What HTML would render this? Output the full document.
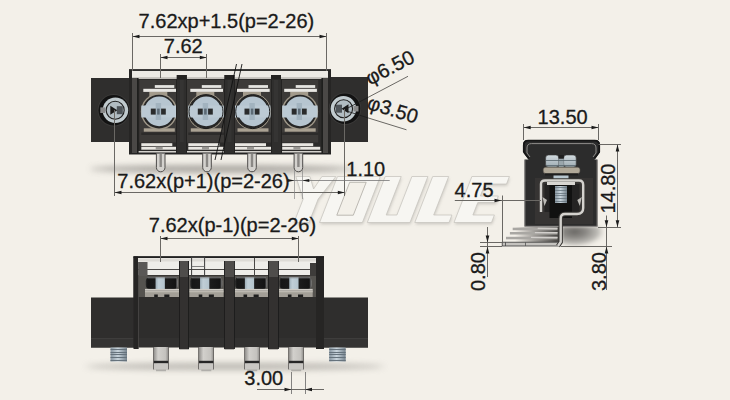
<!DOCTYPE html><html><head><meta charset="utf-8"><style>
html,body{margin:0;padding:0;background:#f3f0e9;width:730px;height:400px;overflow:hidden}
svg{display:block} text{font-family:"Liberation Sans",sans-serif;}
</style></head><body>
<svg width="730" height="400" viewBox="0 0 730 400">
<defs>
<filter id="blur3" x="-20%" y="-200%" width="140%" height="500%"><feGaussianBlur stdDeviation="3"/></filter>
<filter id="blur2" x="-20%" y="-100%" width="140%" height="300%"><feGaussianBlur stdDeviation="1.5"/></filter>
<filter id="blur4" x="-50%" y="-50%" width="200%" height="200%"><feGaussianBlur stdDeviation="4"/></filter>
<linearGradient id="headF" x1="0" y1="0" x2="1" y2="0"><stop offset="0" stop-color="#2a2a2a"/><stop offset="0.06" stop-color="#161616"/><stop offset="0.29" stop-color="#1a1a1a"/><stop offset="0.32" stop-color="#a3b3bc"/><stop offset="0.4" stop-color="#c0ced6"/><stop offset="0.58" stop-color="#b4c4cd"/><stop offset="0.61" stop-color="#1c1c1c"/><stop offset="0.93" stop-color="#141414"/><stop offset="1" stop-color="#8a8a8a"/></linearGradient>
<linearGradient id="thr" x1="0" y1="0" x2="1" y2="0"><stop offset="0" stop-color="#8795a0"/><stop offset="0.45" stop-color="#c8d4dc"/><stop offset="1" stop-color="#76838d"/></linearGradient>
<linearGradient id="pinF" x1="0" y1="0" x2="1" y2="0"><stop offset="0" stop-color="#8f8d8a"/><stop offset="0.3" stop-color="#d2d0cc"/><stop offset="0.8" stop-color="#c4c2be"/><stop offset="1" stop-color="#8f8d8a"/></linearGradient>
<linearGradient id="lead" x1="0" y1="0" x2="1" y2="0"><stop offset="0" stop-color="#c8c6c2"/><stop offset="0.6" stop-color="#8a8885"/><stop offset="1" stop-color="#4a4846"/></linearGradient>
<linearGradient id="sideSh" x1="0" y1="0" x2="1" y2="0"><stop offset="0" stop-color="#6e6c6a"/><stop offset="0.4" stop-color="#8c8a87"/><stop offset="0.75" stop-color="#c4c2bd"/><stop offset="1" stop-color="#e8e6e0"/></linearGradient>
</defs>
<rect width="730" height="400" fill="#f3f0e9"/>

<ellipse cx="222" cy="169" rx="132" ry="3.5" fill="#8f8c87" opacity="0.8" filter="url(#blur3)"/>
<ellipse cx="235" cy="366.5" rx="150" ry="3.2" fill="#8f8c87" opacity="0.6" filter="url(#blur3)"/>
<g>
<polygon points="294.5,224.3 309.5,224.3 318.7,200.8 336.4,178.3 322.4,178.3 314.1,190.8 310.4,178.3 296.4,178.3 303.7,200.8" fill="#b9b6b0" opacity="0.7" filter="url(#blur2)"/>
<polygon points="320.1,224.3 362.9,224.3 380.8,178.3 338.0,178.3" fill="#b9b6b0" opacity="0.7" filter="url(#blur2)"/>
<polygon points="367.8,224.3 410.5,224.3 428.4,178.3 412.4,178.3 397.4,216.8 386.7,216.8 401.7,178.3 385.7,178.3" fill="#b9b6b0" opacity="0.7" filter="url(#blur2)"/>
<polygon points="415.3,224.3 449.5,224.3 452.4,216.8 434.2,216.8 449.2,178.3 433.2,178.3" fill="#b9b6b0" opacity="0.7" filter="url(#blur2)"/>
<polygon points="454.5,224.3 492.0,224.3 494.9,216.8 473.4,216.8 478.3,204.3 496.3,204.3 498.8,197.8 480.8,197.8 485.5,185.8 507.0,185.8 509.9,178.3 472.4,178.3" fill="#b9b6b0" opacity="0.7" filter="url(#blur2)"/>
<polygon points="294.0,222.5 309.0,222.5 318.2,199.0 335.9,176.5 321.9,176.5 313.6,189.0 309.9,176.5 295.9,176.5 303.2,199.0" fill="#f7f6f2" stroke="#c9c6c0" stroke-width="0.8"/>
<polygon points="319.6,222.5 362.4,222.5 380.3,176.5 337.5,176.5" fill="#f7f6f2" stroke="#c9c6c0" stroke-width="0.8"/>
<polygon points="367.3,222.5 410.0,222.5 427.9,176.5 411.9,176.5 396.9,215.0 386.2,215.0 401.2,176.5 385.2,176.5" fill="#f7f6f2" stroke="#c9c6c0" stroke-width="0.8"/>
<polygon points="414.8,222.5 449.0,222.5 451.9,215.0 433.7,215.0 448.7,176.5 432.7,176.5" fill="#f7f6f2" stroke="#c9c6c0" stroke-width="0.8"/>
<polygon points="454.0,222.5 491.5,222.5 494.4,215.0 472.9,215.0 477.8,202.5 495.8,202.5 498.3,196.0 480.3,196.0 485.0,184.0 506.5,184.0 509.4,176.5 471.9,176.5" fill="#f7f6f2" stroke="#c9c6c0" stroke-width="0.8"/>
<polygon points="336.8,215.2 353.3,215.2 366.2,182.3 349.7,182.3" fill="#f3f0e9" stroke="#b5b2ac" stroke-width="0.9"/>
</g>
<rect x="91.00" y="78.00" width="41.00" height="64.00" fill="#2f2e2d" />
<rect x="329.00" y="77.00" width="39.00" height="65.00" fill="#2f2e2d" />
<rect x="129.00" y="69.50" width="202.00" height="85.00" fill="#2c2b2a" />
<rect x="131.00" y="70.70" width="197.00" height="8.00" fill="#ebe9e4" />
<rect x="131.00" y="77.00" width="197.00" height="1.70" fill="#c9c7c2" />
<line x1="129" y1="70" x2="331" y2="70" stroke="#222" stroke-width="1.3"/>
<rect x="139.30" y="80.00" width="38.00" height="62.50" fill="#3c3a38" />
<rect x="154.80" y="85.10" width="19.50" height="2.80" fill="#e6e6e2" />
<rect x="143.30" y="88.80" width="32.70" height="3.10" fill="#e8e7e3" />
<rect x="149.30" y="92.00" width="18.00" height="5.00" fill="#a39b8c" />
<rect x="143.80" y="128.30" width="31.00" height="3.40" fill="#aaa293" />
<circle cx="159.0" cy="111.6" r="18.2" fill="#a1998a"/>
<circle cx="159.0" cy="111.6" r="16.8" fill="#262626"/>
<circle cx="159.20000000000002" cy="111.3" r="14.9" fill="#b6c5d0"/>
<rect x="141.30" y="105.50" width="35.40" height="12.00" fill="#bccad4" />
<rect x="150.80" y="108.60" width="15.00" height="6.00" fill="#2a2b2c" />
<rect x="155.70" y="103.00" width="5.40" height="17.00" fill="#a2b3bf" />
<rect x="157.10" y="108.60" width="2.60" height="6.00" fill="#5c6a75" />
<rect x="141.30" y="143.20" width="31.00" height="2.90" fill="#e9e7e2" />
<rect x="141.30" y="146.80" width="38.00" height="2.90" fill="#e9e7e2" />
<rect x="141.30" y="132.50" width="36.00" height="2.50" fill="#2c2b2a" />
<rect x="186.30" y="80.00" width="38.00" height="62.50" fill="#3c3a38" />
<rect x="201.80" y="85.10" width="19.50" height="2.80" fill="#e6e6e2" />
<rect x="190.30" y="88.80" width="32.70" height="3.10" fill="#e8e7e3" />
<rect x="196.30" y="92.00" width="18.00" height="5.00" fill="#a39b8c" />
<rect x="190.80" y="128.30" width="31.00" height="3.40" fill="#aaa293" />
<circle cx="206.0" cy="111.6" r="18.2" fill="#a1998a"/>
<circle cx="206.0" cy="111.6" r="16.8" fill="#262626"/>
<circle cx="206.20000000000002" cy="111.3" r="14.9" fill="#b6c5d0"/>
<rect x="188.30" y="105.50" width="35.40" height="12.00" fill="#bccad4" />
<rect x="197.80" y="108.60" width="15.00" height="6.00" fill="#2a2b2c" />
<rect x="202.70" y="103.00" width="5.40" height="17.00" fill="#a2b3bf" />
<rect x="204.10" y="108.60" width="2.60" height="6.00" fill="#5c6a75" />
<rect x="188.30" y="143.20" width="31.00" height="2.90" fill="#e9e7e2" />
<rect x="188.30" y="146.80" width="38.00" height="2.90" fill="#e9e7e2" />
<rect x="188.30" y="132.50" width="36.00" height="2.50" fill="#2c2b2a" />
<rect x="233.00" y="80.00" width="38.00" height="62.50" fill="#3c3a38" />
<rect x="248.50" y="85.10" width="19.50" height="2.80" fill="#e6e6e2" />
<rect x="237.00" y="88.80" width="32.70" height="3.10" fill="#e8e7e3" />
<rect x="243.00" y="92.00" width="18.00" height="5.00" fill="#a39b8c" />
<rect x="237.50" y="128.30" width="31.00" height="3.40" fill="#aaa293" />
<circle cx="252.7" cy="111.6" r="18.2" fill="#a1998a"/>
<circle cx="252.7" cy="111.6" r="16.8" fill="#262626"/>
<circle cx="252.9" cy="111.3" r="14.9" fill="#b6c5d0"/>
<rect x="235.00" y="105.50" width="35.40" height="12.00" fill="#bccad4" />
<rect x="244.50" y="108.60" width="15.00" height="6.00" fill="#2a2b2c" />
<rect x="249.40" y="103.00" width="5.40" height="17.00" fill="#a2b3bf" />
<rect x="250.80" y="108.60" width="2.60" height="6.00" fill="#5c6a75" />
<rect x="235.00" y="143.20" width="31.00" height="2.90" fill="#e9e7e2" />
<rect x="235.00" y="146.80" width="38.00" height="2.90" fill="#e9e7e2" />
<rect x="235.00" y="132.50" width="36.00" height="2.50" fill="#2c2b2a" />
<rect x="280.20" y="80.00" width="38.00" height="62.50" fill="#3c3a38" />
<rect x="295.70" y="85.10" width="19.50" height="2.80" fill="#e6e6e2" />
<rect x="284.20" y="88.80" width="32.70" height="3.10" fill="#e8e7e3" />
<rect x="290.20" y="92.00" width="18.00" height="5.00" fill="#a39b8c" />
<rect x="284.70" y="128.30" width="31.00" height="3.40" fill="#aaa293" />
<circle cx="299.9" cy="111.6" r="18.2" fill="#a1998a"/>
<circle cx="299.9" cy="111.6" r="16.8" fill="#262626"/>
<circle cx="300.09999999999997" cy="111.3" r="14.9" fill="#b6c5d0"/>
<rect x="282.20" y="105.50" width="35.40" height="12.00" fill="#bccad4" />
<rect x="291.70" y="108.60" width="15.00" height="6.00" fill="#2a2b2c" />
<rect x="296.60" y="103.00" width="5.40" height="17.00" fill="#a2b3bf" />
<rect x="298.00" y="108.60" width="2.60" height="6.00" fill="#5c6a75" />
<rect x="282.20" y="143.20" width="31.00" height="2.90" fill="#e9e7e2" />
<rect x="282.20" y="146.80" width="38.00" height="2.90" fill="#e9e7e2" />
<rect x="282.20" y="132.50" width="36.00" height="2.50" fill="#2c2b2a" />
<rect x="155.70" y="146.80" width="7.00" height="2.90" fill="#9a9894" />
<rect x="202.00" y="146.80" width="7.00" height="2.90" fill="#9a9894" />
<rect x="247.00" y="146.80" width="7.00" height="2.90" fill="#9a9894" />
<rect x="293.40" y="146.80" width="7.00" height="2.90" fill="#9a9894" />
<rect x="131.00" y="151.00" width="197.00" height="1.50" fill="#d4d2cd" />
<rect x="176.80" y="75.00" width="10.00" height="79.00" fill="#2f2e2d" />
<rect x="179.80" y="80.00" width="4.00" height="62.00" fill="#353433" />
<rect x="176.80" y="75.00" width="10.00" height="4.50" fill="#222120" />
<line x1="176.5" y1="79" x2="176.5" y2="154" stroke="#232221" stroke-width="1"/>
<line x1="186.5" y1="79" x2="186.5" y2="154" stroke="#232221" stroke-width="1"/>
<rect x="224.50" y="75.00" width="10.00" height="79.00" fill="#2f2e2d" />
<rect x="227.50" y="80.00" width="4.00" height="62.00" fill="#353433" />
<rect x="224.50" y="75.00" width="10.00" height="4.50" fill="#222120" />
<line x1="224.5" y1="79" x2="224.5" y2="154" stroke="#232221" stroke-width="1"/>
<line x1="234.5" y1="79" x2="234.5" y2="154" stroke="#232221" stroke-width="1"/>
<rect x="271.00" y="75.00" width="10.00" height="79.00" fill="#2f2e2d" />
<rect x="274.00" y="80.00" width="4.00" height="62.00" fill="#353433" />
<rect x="271.00" y="75.00" width="10.00" height="4.50" fill="#222120" />
<line x1="271.5" y1="79" x2="271.5" y2="154" stroke="#232221" stroke-width="1"/>
<line x1="281.5" y1="79" x2="281.5" y2="154" stroke="#232221" stroke-width="1"/>
<rect x="129.00" y="70.00" width="3.00" height="84.00" fill="#262524" />
<rect x="132.00" y="78.00" width="5.00" height="76.00" fill="#4a4846" />
<rect x="137.00" y="78.00" width="1.60" height="76.00" fill="#1e1e1d" />
<rect x="328.00" y="70.00" width="3.00" height="84.00" fill="#262524" />
<rect x="323.00" y="78.00" width="5.00" height="76.00" fill="#4a4846" />
<rect x="321.40" y="78.00" width="1.60" height="76.00" fill="#1e1e1d" />
<line x1="129" y1="153.5" x2="331" y2="153.5" stroke="#222" stroke-width="1.2"/>
<circle cx="113.8" cy="110.2" r="16.2" fill="#3b3a39"/>
<circle cx="113.8" cy="110.2" r="15.3" fill="#121212"/>
<circle cx="115.39999999999999" cy="110.2" r="12.8" fill="#c0cace"/>
<rect x="100.30" y="107.40" width="5.00" height="5.60" fill="#8a8a8a" />
<circle cx="115.2" cy="110.2" r="9" fill="#b1bcc2" stroke="#1e1e1e" stroke-width="1.1"/>
<rect x="116.8" y="106.2" width="6" height="8" fill="#4e5459"/>
<polygon points="110.3,105.7 117.3,110.2 110.3,114.7" fill="#1a1a1a"/>
<circle cx="345" cy="108.7" r="16.2" fill="#3b3a39"/>
<circle cx="345" cy="108.7" r="15.3" fill="#121212"/>
<circle cx="343.4" cy="108.7" r="12.8" fill="#c0cace"/>
<rect x="353.50" y="105.90" width="5.00" height="5.60" fill="#8a8a8a" />
<circle cx="343.6" cy="108.7" r="9" fill="#b1bcc2" stroke="#1e1e1e" stroke-width="1.1"/>
<rect x="336" y="104.7" width="6" height="8" fill="#4e5459"/>
<polygon points="348.5,104.2 341.5,108.7 348.5,113.2" fill="#1a1a1a"/>
<path d="M156.4 153.5 V167.5 a4.3 4.3 0 0 0 8.6 0 V153.5" fill="#d4d2ce" stroke="#4e4c4a" stroke-width="1"/>
<rect x="159.50" y="154.00" width="2.40" height="13.00" fill="#8a8885" />
<path d="M202.7 153.5 V167.5 a4.3 4.3 0 0 0 8.6 0 V153.5" fill="#d4d2ce" stroke="#4e4c4a" stroke-width="1"/>
<rect x="205.80" y="154.00" width="2.40" height="13.00" fill="#8a8885" />
<path d="M247.7 153.5 V167.5 a4.3 4.3 0 0 0 8.6 0 V153.5" fill="#d4d2ce" stroke="#4e4c4a" stroke-width="1"/>
<rect x="250.80" y="154.00" width="2.40" height="13.00" fill="#8a8885" />
<path d="M294.1 153.5 V167.5 a4.3 4.3 0 0 0 8.6 0 V153.5" fill="#d4d2ce" stroke="#4e4c4a" stroke-width="1"/>
<rect x="297.20" y="154.00" width="2.40" height="13.00" fill="#8a8885" />
<line x1="236.5" y1="64" x2="215" y2="160" stroke="#111" stroke-width="0.9"/>
<line x1="242" y1="64" x2="221" y2="160" stroke="#111" stroke-width="0.9"/>
<circle cx="206.0" cy="111.6" r="17" fill="none" stroke="#111" stroke-width="0.9"/>
<circle cx="252.7" cy="111.6" r="17" fill="none" stroke="#111" stroke-width="0.9"/>
<text x="138.6" y="28.3" font-size="20" fill="#1a1a1a" stroke="#1a1a1a" stroke-width="0.3" text-anchor="start" >7.62xp+1.5(p=2-26)</text>
<line x1="132.5" y1="36.5" x2="326.5" y2="36.5" stroke="#6a6864" stroke-width="1"/>
<polygon points="132.5,36.5 139.5,34.7 139.5,38.3" fill="#1c1c1c"/>
<polygon points="326.5,36.5 319.5,34.7 319.5,38.3" fill="#1c1c1c"/>
<line x1="132.5" y1="33" x2="132.5" y2="71" stroke="#6a6864" stroke-width="1"/>
<line x1="326.5" y1="33" x2="326.5" y2="71" stroke="#6a6864" stroke-width="1"/>
<text x="163.8" y="52.8" font-size="20" fill="#1a1a1a" stroke="#1a1a1a" stroke-width="0.3" text-anchor="start" >7.62</text>
<line x1="160.5" y1="57.5" x2="206.8" y2="57.5" stroke="#6a6864" stroke-width="1"/>
<polygon points="160.5,57.5 167.5,55.7 167.5,59.3" fill="#1c1c1c"/>
<polygon points="206.8,57.5 199.8,55.7 199.8,59.3" fill="#1c1c1c"/>
<line x1="160.5" y1="54" x2="160.5" y2="78" stroke="#6a6864" stroke-width="1"/>
<line x1="206.5" y1="54" x2="206.5" y2="78" stroke="#6a6864" stroke-width="1"/>
<text x="370" y="85.5" font-size="20" fill="#1a1a1a" stroke="#1a1a1a" stroke-width="0.3" text-anchor="start" transform="rotate(-27.5 370 85.5)" >φ6.50</text>
<line x1="368" y1="97.4" x2="408" y2="76.3" stroke="#6a6864" stroke-width="1"/>
<line x1="345" y1="109.5" x2="368" y2="97.4" stroke="#1a1a1a" stroke-width="0.8"/>
<text x="366" y="108.5" font-size="20" fill="#1a1a1a" stroke="#1a1a1a" stroke-width="0.3" text-anchor="start" transform="rotate(17 366 108.5)" >φ3.50</text>
<line x1="368" y1="117.9" x2="406.5" y2="129.8" stroke="#6a6864" stroke-width="1"/>
<line x1="345" y1="110.5" x2="368" y2="117.9" stroke="#1a1a1a" stroke-width="0.8"/>
<text x="117.3" y="187.8" font-size="20" fill="#1a1a1a" stroke="#1a1a1a" stroke-width="0.3" text-anchor="start" >7.62x(p+1)(p=2-26)</text>
<line x1="114.5" y1="110" x2="114.5" y2="196" stroke="#6a6864" stroke-width="1"/>
<line x1="344.5" y1="109" x2="344.5" y2="196" stroke="#6a6864" stroke-width="1"/>
<line x1="114.5" y1="192.5" x2="344.3" y2="192.5" stroke="#6a6864" stroke-width="1"/>
<polygon points="114.5,192.5 121.5,190.7 121.5,194.3" fill="#1c1c1c"/>
<polygon points="344.8,192.5 337.8,190.7 337.8,194.3" fill="#1c1c1c"/>
<text x="346.3" y="175.5" font-size="20" fill="#1a1a1a" stroke="#1a1a1a" stroke-width="0.3" text-anchor="start" >1.10</text>
<line x1="288" y1="180.5" x2="389.7" y2="180.5" stroke="#777" stroke-width="0.8"/>
<line x1="294.5" y1="170" x2="294.5" y2="199" stroke="#888" stroke-width="0.7"/>
<line x1="302.5" y1="170" x2="302.5" y2="199" stroke="#888" stroke-width="0.7"/>
<polygon points="302.3,180.5 309.3,179.0 309.3,182.0" fill="#1c1c1c"/>
<polygon points="294.6,180.5 287.6,179.0 287.6,182.0" fill="#1c1c1c"/>
<text x="148.8" y="232" font-size="20" fill="#1a1a1a" stroke="#1a1a1a" stroke-width="0.3" text-anchor="start" >7.62x(p-1)(p=2-26)</text>
<rect x="91.00" y="297.50" width="43.00" height="50.00" fill="#2f2e2d" />
<rect x="323.00" y="297.50" width="45.00" height="50.00" fill="#2f2e2d" />
<rect x="91.00" y="338.00" width="43.00" height="9.50" fill="#353433" />
<rect x="323.00" y="338.00" width="45.00" height="9.50" fill="#353433" />
<line x1="91" y1="338.5" x2="134" y2="338.5" stroke="#3e3d3c" stroke-width="1"/>
<line x1="323" y1="338.5" x2="368" y2="338.5" stroke="#3e3d3c" stroke-width="1"/>
<rect x="133.50" y="256.50" width="190.50" height="91.00" fill="#2e2d2c" />
<rect x="138.00" y="338.00" width="180.00" height="9.00" fill="#323130" />
<rect x="138.00" y="258.00" width="180.00" height="18.00" fill="#eeede9" />
<rect x="138.00" y="258.50" width="180.00" height="3.00" fill="#dddbd6" />
<line x1="138" y1="269.5" x2="318" y2="269.5" stroke="#4a4846" stroke-width="1"/>
<line x1="138" y1="275.5" x2="318" y2="275.5" stroke="#3a3836" stroke-width="1"/>
<line x1="254.5" y1="257" x2="254.5" y2="276" stroke="#4a4846" stroke-width="1"/>
<rect x="138.00" y="276.00" width="180.00" height="21.00" fill="#55534f" />
<rect x="145.8" y="277.3" width="32" height="11.6" rx="4" fill="url(#headF)"/>
<rect x="147.5" y="277.3" width="29" height="1" fill="#8a8c8e" opacity="0.8"/>
<rect x="145.00" y="288.90" width="34.00" height="1.80" fill="#cfccc6" />
<rect x="145.00" y="290.70" width="34.00" height="6.30" fill="#a39f97" />
<rect x="145.00" y="290.70" width="34.00" height="1.60" fill="#bdb9b1" />
<rect x="154.20" y="294.50" width="3.60" height="2.50" fill="#1e1e1e" />
<rect x="164.30" y="294.50" width="5.10" height="2.50" fill="#1e1e1e" />
<rect x="190.3" y="277.3" width="32" height="11.6" rx="4" fill="url(#headF)"/>
<rect x="192.0" y="277.3" width="29" height="1" fill="#8a8c8e" opacity="0.8"/>
<rect x="189.50" y="288.90" width="34.00" height="1.80" fill="#cfccc6" />
<rect x="189.50" y="290.70" width="34.00" height="6.30" fill="#a39f97" />
<rect x="189.50" y="290.70" width="34.00" height="1.60" fill="#bdb9b1" />
<rect x="198.70" y="294.50" width="3.60" height="2.50" fill="#1e1e1e" />
<rect x="208.80" y="294.50" width="5.10" height="2.50" fill="#1e1e1e" />
<rect x="235.1" y="277.3" width="32" height="11.6" rx="4" fill="url(#headF)"/>
<rect x="236.8" y="277.3" width="29" height="1" fill="#8a8c8e" opacity="0.8"/>
<rect x="234.30" y="288.90" width="34.00" height="1.80" fill="#cfccc6" />
<rect x="234.30" y="290.70" width="34.00" height="6.30" fill="#a39f97" />
<rect x="234.30" y="290.70" width="34.00" height="1.60" fill="#bdb9b1" />
<rect x="243.50" y="294.50" width="3.60" height="2.50" fill="#1e1e1e" />
<rect x="253.60" y="294.50" width="5.10" height="2.50" fill="#1e1e1e" />
<rect x="279.5" y="277.3" width="32" height="11.6" rx="4" fill="url(#headF)"/>
<rect x="281.2" y="277.3" width="29" height="1" fill="#8a8c8e" opacity="0.8"/>
<rect x="278.70" y="288.90" width="34.00" height="1.80" fill="#cfccc6" />
<rect x="278.70" y="290.70" width="34.00" height="6.30" fill="#a39f97" />
<rect x="278.70" y="290.70" width="34.00" height="1.60" fill="#bdb9b1" />
<rect x="287.90" y="294.50" width="3.60" height="2.50" fill="#1e1e1e" />
<rect x="298.00" y="294.50" width="5.10" height="2.50" fill="#1e1e1e" />
<rect x="179.30" y="261.00" width="9.60" height="88.30" fill="#333130" />
<rect x="179.30" y="261.00" width="9.60" height="16.00" fill="#4f4d4b" />
<line x1="179.5" y1="261" x2="179.5" y2="349" stroke="#1c1c1c" stroke-width="0.9"/>
<line x1="188.5" y1="261" x2="188.5" y2="349" stroke="#1c1c1c" stroke-width="0.9"/>
<rect x="224.50" y="261.00" width="9.60" height="88.30" fill="#333130" />
<rect x="224.50" y="261.00" width="9.60" height="16.00" fill="#4f4d4b" />
<line x1="224.5" y1="261" x2="224.5" y2="349" stroke="#1c1c1c" stroke-width="0.9"/>
<line x1="234.5" y1="261" x2="234.5" y2="349" stroke="#1c1c1c" stroke-width="0.9"/>
<rect x="268.40" y="261.00" width="9.60" height="88.30" fill="#333130" />
<rect x="268.40" y="261.00" width="9.60" height="16.00" fill="#4f4d4b" />
<line x1="268.5" y1="261" x2="268.5" y2="349" stroke="#1c1c1c" stroke-width="0.9"/>
<line x1="278.5" y1="261" x2="278.5" y2="349" stroke="#1c1c1c" stroke-width="0.9"/>
<rect x="133.50" y="256.50" width="4.50" height="92.50" fill="#262524" />
<line x1="138.5" y1="262" x2="138.5" y2="349" stroke="#4a4846" stroke-width="0.8"/>
<rect x="316.00" y="256.50" width="8.00" height="92.50" fill="#262524" />
<rect x="138.50" y="262.00" width="9.00" height="14.00" fill="#5a5856" />
<rect x="310.00" y="263.00" width="6.00" height="13.00" fill="#3e3c3a" />
<line x1="133.5" y1="257" x2="324" y2="257" stroke="#1c1c1c" stroke-width="1.5"/>
<line x1="160.5" y1="238.5" x2="298.3" y2="238.5" stroke="#6a6864" stroke-width="1"/>
<polygon points="160.5,238.5 167.5,236.7 167.5,240.3" fill="#1c1c1c"/>
<polygon points="298.8,238.5 291.8,236.7 291.8,240.3" fill="#1c1c1c"/>
<line x1="160.5" y1="236" x2="160.5" y2="262" stroke="#6a6864" stroke-width="1"/>
<line x1="298.5" y1="236" x2="298.5" y2="262" stroke="#6a6864" stroke-width="1"/>
<rect x="191.6" y="257.5" width="13" height="18.5" fill="none" stroke="#3a3a3a" stroke-width="1"/>
<line x1="191.6" y1="266.5" x2="204.6" y2="266.5" stroke="#666" stroke-width="0.8"/>
<rect x="110.50" y="347.50" width="16.50" height="14.00" fill="url(#thr)" />
<line x1="110.5" y1="349.5" x2="127.0" y2="349.5" stroke="#66737d" stroke-width="1"/>
<line x1="110.5" y1="352.5" x2="127.0" y2="352.5" stroke="#66737d" stroke-width="1"/>
<line x1="110.5" y1="354.5" x2="127.0" y2="354.5" stroke="#66737d" stroke-width="1"/>
<line x1="110.5" y1="357.5" x2="127.0" y2="357.5" stroke="#66737d" stroke-width="1"/>
<line x1="110.5" y1="360.5" x2="127.0" y2="360.5" stroke="#66737d" stroke-width="1"/>
<rect x="329.20" y="347.50" width="16.50" height="14.00" fill="url(#thr)" />
<line x1="329.2" y1="349.5" x2="345.7" y2="349.5" stroke="#66737d" stroke-width="1"/>
<line x1="329.2" y1="352.5" x2="345.7" y2="352.5" stroke="#66737d" stroke-width="1"/>
<line x1="329.2" y1="354.5" x2="345.7" y2="354.5" stroke="#66737d" stroke-width="1"/>
<line x1="329.2" y1="357.5" x2="345.7" y2="357.5" stroke="#66737d" stroke-width="1"/>
<line x1="329.2" y1="360.5" x2="345.7" y2="360.5" stroke="#66737d" stroke-width="1"/>
<rect x="153.60" y="347.00" width="14.80" height="22.40" fill="url(#pinF)" />
<rect x="153.60" y="360.80" width="14.80" height="2.60" fill="#262626" />
<rect x="153.60" y="363.40" width="14.80" height="6.00" fill="#c9c7c3" />
<rect x="156.00" y="369.40" width="10.00" height="1.80" fill="#b0aeaa" />
<line x1="153.5" y1="347" x2="153.5" y2="369.4" stroke="#5a5856" stroke-width="0.8"/>
<line x1="168.5" y1="347" x2="168.5" y2="369.4" stroke="#5a5856" stroke-width="0.8"/>
<rect x="198.90" y="347.00" width="14.80" height="22.40" fill="url(#pinF)" />
<rect x="198.90" y="360.80" width="14.80" height="2.60" fill="#262626" />
<rect x="198.90" y="363.40" width="14.80" height="6.00" fill="#c9c7c3" />
<rect x="201.30" y="369.40" width="10.00" height="1.80" fill="#b0aeaa" />
<line x1="198.5" y1="347" x2="198.5" y2="369.4" stroke="#5a5856" stroke-width="0.8"/>
<line x1="213.5" y1="347" x2="213.5" y2="369.4" stroke="#5a5856" stroke-width="0.8"/>
<rect x="244.80" y="347.00" width="14.80" height="22.40" fill="url(#pinF)" />
<rect x="244.80" y="360.80" width="14.80" height="2.60" fill="#262626" />
<rect x="244.80" y="363.40" width="14.80" height="6.00" fill="#c9c7c3" />
<rect x="247.20" y="369.40" width="10.00" height="1.80" fill="#b0aeaa" />
<line x1="244.5" y1="347" x2="244.5" y2="369.4" stroke="#5a5856" stroke-width="0.8"/>
<line x1="259.5" y1="347" x2="259.5" y2="369.4" stroke="#5a5856" stroke-width="0.8"/>
<rect x="288.80" y="347.00" width="14.80" height="22.40" fill="url(#pinF)" />
<rect x="288.80" y="360.80" width="14.80" height="2.60" fill="#262626" />
<rect x="288.80" y="363.40" width="14.80" height="6.00" fill="#c9c7c3" />
<rect x="291.20" y="369.40" width="10.00" height="1.80" fill="#b0aeaa" />
<line x1="288.5" y1="347" x2="288.5" y2="369.4" stroke="#5a5856" stroke-width="0.8"/>
<line x1="303.5" y1="347" x2="303.5" y2="369.4" stroke="#5a5856" stroke-width="0.8"/>
<text x="244.3" y="385.2" font-size="20" fill="#1a1a1a" stroke="#1a1a1a" stroke-width="0.3" text-anchor="start" >3.00</text>
<line x1="257" y1="389.5" x2="324" y2="389.5" stroke="#6a6864" stroke-width="1"/>
<line x1="291.5" y1="372" x2="291.5" y2="394" stroke="#666" stroke-width="0.8"/>
<line x1="305.5" y1="372" x2="305.5" y2="394" stroke="#666" stroke-width="0.8"/>
<polygon points="291.5,389.5 284.5,387.7 284.5,391.3" fill="#1c1c1c"/>
<polygon points="305,389.5 312,387.7 312,391.3" fill="#1c1c1c"/>
<text x="537.6" y="123.7" font-size="20" fill="#1a1a1a" stroke="#1a1a1a" stroke-width="0.3" text-anchor="start" >13.50</text>
<line x1="523.7" y1="127.5" x2="598.5" y2="127.5" stroke="#6a6864" stroke-width="1"/>
<polygon points="523.7,127.5 530.7,125.7 530.7,129.3" fill="#1c1c1c"/>
<polygon points="598.5,127.5 591.5,125.7 591.5,129.3" fill="#1c1c1c"/>
<line x1="523.5" y1="124" x2="523.5" y2="140" stroke="#6a6864" stroke-width="1"/>
<line x1="598.5" y1="124" x2="598.5" y2="140" stroke="#6a6864" stroke-width="1"/>
<radialGradient id="sideR" cx="0.3" cy="0.25" r="0.8"><stop offset="0" stop-color="#6a6865"/><stop offset="0.35" stop-color="#8c8a86"/><stop offset="0.7" stop-color="#bebcb7"/><stop offset="1" stop-color="#f3f0e9" stop-opacity="0"/></radialGradient>
<rect x="562" y="226.5" width="42" height="21" fill="url(#sideR)" filter="url(#blur2)"/>
<linearGradient id="leadSh" x1="0" y1="0" x2="1" y2="0"><stop offset="0" stop-color="#4a4846" stop-opacity="0"/><stop offset="0.45" stop-color="#4a4846" stop-opacity="0.5"/><stop offset="1" stop-color="#3a3836" stop-opacity="0.95"/></linearGradient>
<rect x="515" y="227" width="44" height="15.5" fill="url(#leadSh)"/>
<rect x="512.7" y="227.7" width="44.8" height="2.5" fill="#a9a7a3"/>
<rect x="537.7" y="227.7" width="19.8" height="1.2" fill="#d6d4d0" opacity="0.9"/>
<rect x="509.9" y="232" width="47.6" height="2.5" fill="#a9a7a3"/>
<rect x="534.9" y="232" width="22.6" height="1.2" fill="#d6d4d0" opacity="0.9"/>
<rect x="506" y="236.8" width="51.5" height="2.5" fill="#a9a7a3"/>
<rect x="531" y="236.8" width="26.5" height="1.2" fill="#d6d4d0" opacity="0.9"/>
<rect x="502.2" y="242.2" width="58" height="3.8" fill="#c4c2be" stroke="#3a3a3a" stroke-width="0.8"/>
<line x1="505.5" y1="242.2" x2="505.5" y2="246" stroke="#444" stroke-width="0.8"/>
<line x1="525.5" y1="242.2" x2="525.5" y2="246" stroke="#555" stroke-width="0.8"/>
<path d="M523 152 V145 Q523 139.9 528 139.9 H595 Q600 139.9 600 145 V152 L594.5 159.5 H597.5 V226.5 H524.5 V159.5 H528.5 Z" fill="#2c2c2c"/>
<path d="M523.8 152 V145.2 Q523.8 140.7 528.3 140.7 H594.7 Q599.2 140.7 599.2 145.2 V152 L594.5 158.5" fill="none" stroke="#161616" stroke-width="1.8"/>
<path d="M528.8 158.5 L523.8 152" fill="none" stroke="#161616" stroke-width="1.8"/>
<path d="M530 157 L527 153 V148 Q527 143.6 531.4 143.6 H591.6 Q596 143.6 596 148 V153 L593 157" fill="none" stroke="#8e8c89" stroke-width="1"/>
<path d="M524.9 160 V226.3 H597.1 V160" fill="none" stroke="#8a8886" stroke-width="0.9"/>
<rect x="535.00" y="178.00" width="58.00" height="46.00" fill="#363433" />
<rect x="544.50" y="184.00" width="35.00" height="28.00" fill="#242323" />
<rect x="549.50" y="184.00" width="22.50" height="34.00" fill="#111111" />
<linearGradient id="sh2" x1="0" y1="0" x2="0" y2="1"><stop offset="0" stop-color="#d3dce0"/><stop offset="0.45" stop-color="#b9c4ca"/><stop offset="1" stop-color="#9eabb2"/></linearGradient>
<rect x="545.6" y="155" width="13.2" height="12.2" rx="3" fill="url(#sh2)" stroke="#3a3a3a" stroke-width="0.6"/>
<rect x="563.6" y="155" width="12.6" height="12.2" rx="3" fill="url(#sh2)" stroke="#3a3a3a" stroke-width="0.6"/>
<rect x="558.60" y="158.50" width="5.20" height="8.70" fill="#9aa6ac" />
<rect x="558.60" y="155.00" width="5.20" height="3.50" fill="#202020" />
<line x1="546" y1="160.5" x2="576" y2="160.5" stroke="#56636b" stroke-width="0.8"/>
<line x1="546" y1="165.5" x2="576" y2="165.5" stroke="#56636b" stroke-width="0.8"/>
<rect x="543.2" y="167.2" width="36.8" height="6.3" rx="2.5" fill="#b0a898" stroke="#55504a" stroke-width="0.6"/>
<rect x="545.00" y="173.50" width="33.00" height="2.00" fill="#1e1e1e" />
<rect x="553.50" y="175.50" width="15.00" height="4.50" fill="#b7c6cf" />
<path d="M541 212 V184 Q541 180.5 545 180.5 H579 Q583.2 180.5 583.2 185 V208 Q583.2 214 577 214 H565 Q560.7 214 560.7 218.5 V242 L558 246" fill="none" stroke="#3a3836" stroke-width="4.4"/>
<path d="M541 212 V184 Q541 180.5 545 180.5 H579 Q583.2 180.5 583.2 185 V208 Q583.2 214 577 214 H565 Q560.7 214 560.7 218.5 V242 L558 246" fill="none" stroke="#d4d2ce" stroke-width="2.4"/>
<rect x="547.00" y="182.00" width="28.00" height="3.00" fill="#d8d6d2" />
<rect x="555.00" y="186.00" width="12.00" height="17.00" fill="url(#thr)" />
<line x1="555" y1="187.5" x2="567" y2="187.5" stroke="#66737d" stroke-width="0.8"/>
<line x1="555" y1="190.5" x2="567" y2="190.5" stroke="#66737d" stroke-width="0.8"/>
<line x1="555" y1="193.5" x2="567" y2="193.5" stroke="#66737d" stroke-width="0.8"/>
<line x1="555" y1="195.5" x2="567" y2="195.5" stroke="#66737d" stroke-width="0.8"/>
<line x1="555" y1="198.5" x2="567" y2="198.5" stroke="#66737d" stroke-width="0.8"/>
<line x1="555" y1="201.5" x2="567" y2="201.5" stroke="#66737d" stroke-width="0.8"/>
<path d="M542.5 197 L547 200 L544.5 206 Z" fill="#bdbbb7"/>
<path d="M581.8 197 L577.3 200 L579.8 206 Z" fill="#bdbbb7"/>
<line x1="598.5" y1="144.5" x2="621" y2="144.5" stroke="#6a6864" stroke-width="1"/>
<line x1="598.5" y1="227.5" x2="621" y2="227.5" stroke="#6a6864" stroke-width="1"/>
<line x1="617.5" y1="144.5" x2="617.5" y2="227.3" stroke="#6a6864" stroke-width="1"/>
<polygon points="617.5,144.5 615.7,151.5 619.3,151.5" fill="#1c1c1c"/>
<polygon points="617.5,227.3 615.7,220.3 619.3,220.3" fill="#1c1c1c"/>
<text x="614.6" y="213.6" font-size="20" fill="#1a1a1a" stroke="#1a1a1a" stroke-width="0.3" text-anchor="start" transform="rotate(-90 614.6 213.6)" >14.80</text>
<text x="454.6" y="197" font-size="20" fill="#1a1a1a" stroke="#1a1a1a" stroke-width="0.3" text-anchor="start" >4.75</text>
<line x1="454.8" y1="200.5" x2="541" y2="200.5" stroke="#6a6864" stroke-width="1"/>
<polygon points="501.5,200.5 494.5,198.7 494.5,202.3" fill="#1c1c1c"/>
<line x1="502.5" y1="195.5" x2="502.5" y2="242.6" stroke="#6a6864" stroke-width="1"/>
<line x1="480" y1="242.5" x2="502" y2="242.5" stroke="#6a6864" stroke-width="1"/>
<line x1="480" y1="246.5" x2="502" y2="246.5" stroke="#6a6864" stroke-width="1"/>
<line x1="487.5" y1="227" x2="487.5" y2="277" stroke="#6a6864" stroke-width="1"/>
<polygon points="487.5,242.6 485.7,235.6 489.3,235.6" fill="#1c1c1c"/>
<polygon points="487.5,246.5 485.7,253.5 489.3,253.5" fill="#1c1c1c"/>
<text x="484.8" y="291" font-size="20" fill="#1a1a1a" stroke="#1a1a1a" stroke-width="0.3" text-anchor="start" transform="rotate(-90 484.8 291)" >0.80</text>
<line x1="561" y1="246.5" x2="612" y2="246.5" stroke="#6a6864" stroke-width="1"/>
<line x1="598" y1="227.5" x2="612" y2="227.5" stroke="#6a6864" stroke-width="1"/>
<line x1="606.5" y1="215.5" x2="606.5" y2="290" stroke="#6a6864" stroke-width="1"/>
<polygon points="606.5,227.3 604.7,220.3 608.3,220.3" fill="#1c1c1c"/>
<polygon points="606.5,246.5 604.7,253.5 608.3,253.5" fill="#1c1c1c"/>
<text x="605.6" y="291" font-size="20" fill="#1a1a1a" stroke="#1a1a1a" stroke-width="0.3" text-anchor="start" transform="rotate(-90 605.6 291)" >3.80</text>
</svg></body></html>
